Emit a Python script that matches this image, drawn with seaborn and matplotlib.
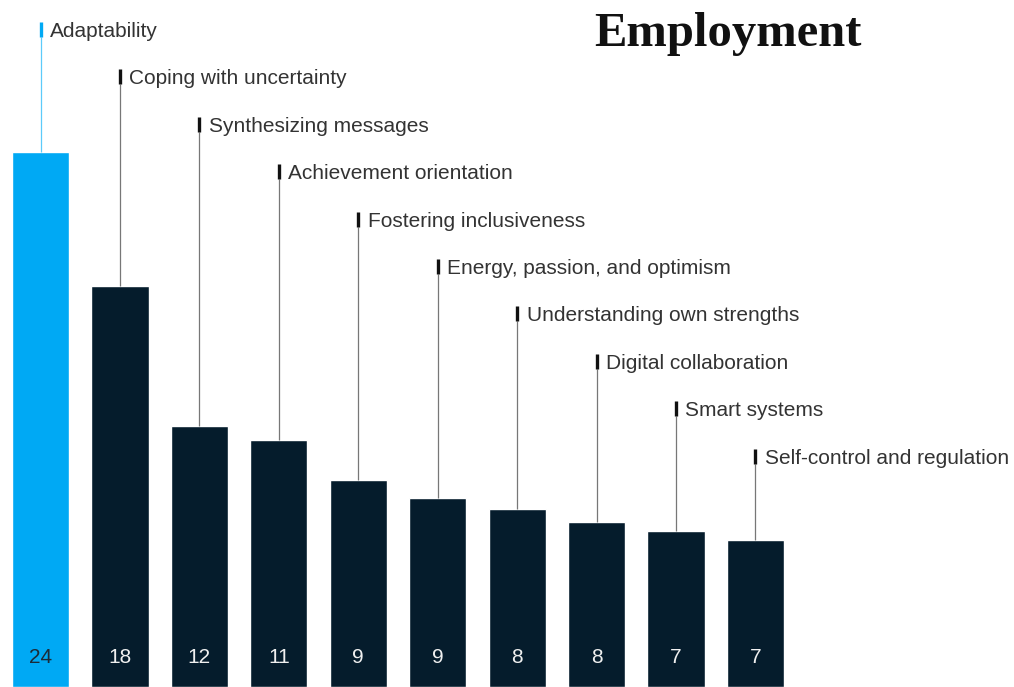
import matplotlib
matplotlib.use("Agg")
import matplotlib.pyplot as plt
import seaborn as sns
import pandas as pd

# ---- data ----
skills = ["Adaptability", "Coping with uncertainty", "Synthesizing messages",
          "Achievement orientation", "Fostering inclusiveness",
          "Energy, passion, and optimism", "Understanding own strengths",
          "Digital collaboration", "Smart systems", "Self-control and regulation"]
values = [24.0, 18.0, 11.7, 11.1, 9.3, 8.5, 8.0, 7.4, 7.0, 6.6]
value_labels = ["24", "18", "12", "11", "9", "9", "8", "8", "7", "7"]
title = "Employment"

BLUE = "#00A9F4"
NAVY = "#051C2C"
colors = [BLUE] + [NAVY] * (len(skills) - 1)

sns.set_theme(style="white")
plt.rcParams["font.family"] = ["Liberation Sans", "DejaVu Sans"]

W, H = 1014, 687
fig = plt.figure(figsize=(W / 100, H / 100), dpi=100)
ax = fig.add_axes([0, 0, 1, 1])

df = pd.DataFrame({"skill": skills, "value": values})
sns.barplot(data=df, x="skill", y="value", hue="skill", palette=colors,
            width=0.72, saturation=1, legend=False, ax=ax)

step_px = 79.44
first_px = 40.5
px_per_unit = 22.29
ax.set_xlim(-first_px / step_px, (W - first_px) / step_px)
ymax = H / px_per_unit
ax.set_ylim(0, ymax)
ax.axis("off")


def py(px):
    """pixel row from top -> data y"""
    return ymax * (1 - px / H)


for i, (s, v, lab) in enumerate(zip(skills, values, value_labels)):
    base_px = 37 + 47.4 * i
    is_first = i == 0
    mcol = BLUE if is_first else "#111111"
    lcol = "#5CCBFA" if is_first else "#777777"
    # leader line
    ax.vlines(i, v, py(base_px), color=lcol, lw=0.9, zorder=1)
    # marker
    ax.vlines(i, py(base_px), py(base_px - 15), color=mcol, lw=2.4, zorder=2)
    # label
    ax.annotate(s, xy=(i, py(base_px)), xytext=(6.8, 0), textcoords="offset points",
                ha="left", va="baseline", fontsize=15, color="#333333")
    # value inside bar
    ax.text(i, py(663), lab, ha="center", va="baseline", fontsize=15,
            color="#1b2b38" if is_first else "#f0f0f0")

fig.text(594 / W, 1 - 46 / H, title, ha="left", va="baseline",
         fontsize=35, fontweight="bold", family="Liberation Serif", color="#111111")

fig.savefig("out.png", dpi=100)
